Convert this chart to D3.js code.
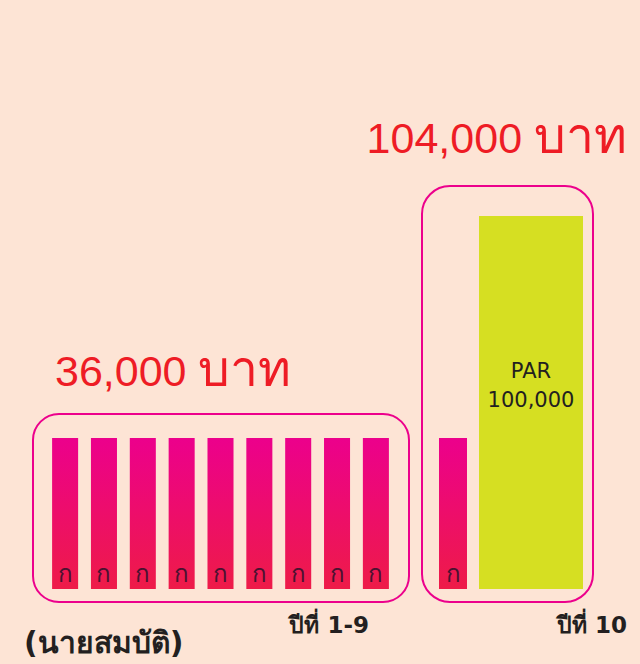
<!DOCTYPE html>
<html>
<head>
<meta charset="utf-8">
<script src="https://cdn.jsdelivr.net/npm/d3@7"></script>
<style>
  body { margin: 0; background: #fde4d5; }
  svg { display: block; font-family: "DejaVu Sans", sans-serif; }
</style>
</head>
<body>
<div id="chart"></div>
<script>
// payments: coupon 4,000 per year for years 1-9, coupon + par in year 10
const years = ["1", "2", "3", "4", "5", "6", "7", "8", "9"];
const coupon = 4000;
const par = 100000;
const lastYearItems = ["coupon", "par"];
const totalAmounts = ["36,000", "104,000"];
const currency = "บาท";
const yearLabels = ["ปีที่ 1-9", "ปีที่ 10"];
const couponLabel = "ก";
const parLabel = ["PAR", "100,000"];
const person = "(นายสมบัติ)";

const width = 640,
  height = 664,
  baseY = 589;

const svg = d3
  .select("#chart")
  .append("svg")
  .attr("width", width)
  .attr("height", height);

svg.append("rect").attr("width", width).attr("height", height).attr("fill", "#fde4d5");

// bars are schematic: small coupons, tall par
const y = d3.scaleLinear().domain([0, coupon, par]).range([baseY, 438, 216]);

const x1 = d3
  .scaleBand()
  .domain(years)
  .range([45.5, 395.5])
  .paddingInner(0.33)
  .paddingOuter(0.17);

const x2 = d3.scaleOrdinal(lastYearItems, [439, 479]);
const w2 = d3.scaleOrdinal(lastYearItems, [28, 104]);

const defs = svg.append("defs");
const grad = defs
  .append("linearGradient")
  .attr("id", "pink")
  .attr("x1", 0)
  .attr("y1", 0)
  .attr("x2", 0)
  .attr("y2", 1);
grad.append("stop").attr("offset", "0%").attr("stop-color", "#ec008c");
grad.append("stop").attr("offset", "100%").attr("stop-color", "#ee1b48");

// rounded frames
svg
  .append("rect")
  .attr("x", 33)
  .attr("y", 414)
  .attr("width", 376)
  .attr("height", 188)
  .attr("rx", 26)
  .attr("fill", "none")
  .attr("stroke", "#ec008c")
  .attr("stroke-width", 2);

svg
  .append("rect")
  .attr("x", 422)
  .attr("y", 186)
  .attr("width", 171)
  .attr("height", 416)
  .attr("rx", 28)
  .attr("fill", "none")
  .attr("stroke", "#ec008c")
  .attr("stroke-width", 2);

// years 1-9
const g1 = svg.append("g");
g1.selectAll("rect")
  .data(years)
  .join("rect")
  .attr("x", (d) => x1(d))
  .attr("y", y(coupon))
  .attr("width", x1.bandwidth())
  .attr("height", baseY - y(coupon))
  .attr("fill", "url(#pink)");

g1.selectAll("text")
  .data(years)
  .join("text")
  .attr("x", (d) => x1(d) + x1.bandwidth() / 2)
  .attr("y", baseY - 7)
  .attr("text-anchor", "middle")
  .attr("font-size", 24)
  .attr("fill", "#4a1230")
  .text(couponLabel);

// year 10
const values10 = { coupon: coupon, par: par };
const g2 = svg.append("g");
g2.selectAll("rect")
  .data(lastYearItems)
  .join("rect")
  .attr("x", (d) => x2(d))
  .attr("y", (d) => y(values10[d]))
  .attr("width", (d) => w2(d))
  .attr("height", (d) => baseY - y(values10[d]))
  .attr("fill", (d) => (d === "par" ? "#d6df22" : "url(#pink)"));

g2.append("text")
  .attr("x", x2("coupon") + w2("coupon") / 2)
  .attr("y", baseY - 7)
  .attr("text-anchor", "middle")
  .attr("font-size", 24)
  .attr("fill", "#4a1230")
  .text(couponLabel);

g2.selectAll("text.par")
  .data(parLabel)
  .join("text")
  .attr("class", "par")
  .attr("x", x2("par") + w2("par") / 2)
  .attr("y", (d, i) => 378 + i * 29)
  .attr("text-anchor", "middle")
  .attr("font-size", 21)
  .attr("fill", "#231f20")
  .text((d) => d);

// totals
function total(x, yPos, anchor, amount) {
  const t = svg
    .append("text")
    .attr("x", x)
    .attr("y", yPos)
    .attr("text-anchor", anchor)
    .attr("font-family", "'Liberation Sans', Arial, sans-serif")
    .attr("font-size", 43)
    .attr("fill", "#ee1c25");
  t.append("tspan").text(amount + " ");
  t.append("tspan").attr("font-size", 50).text(currency);
}
total(55, 386, "start", totalAmounts[0]);
total(627, 153, "end", totalAmounts[1]);

// year labels
svg
  .append("text")
  .attr("x", 369)
  .attr("y", 633)
  .attr("text-anchor", "end")
  .attr("font-size", 23)
  .attr("font-weight", "bold")
  .attr("fill", "#231f20")
  .text(yearLabels[0]);

svg
  .append("text")
  .attr("x", 627)
  .attr("y", 633)
  .attr("text-anchor", "end")
  .attr("font-size", 23)
  .attr("font-weight", "bold")
  .attr("fill", "#231f20")
  .text(yearLabels[1]);

svg
  .append("text")
  .attr("x", 24)
  .attr("y", 653)
  .attr("font-size", 30)
  .attr("font-weight", "bold")
  .attr("fill", "#231f20")
  .text(person);
</script>
</body>
</html>
